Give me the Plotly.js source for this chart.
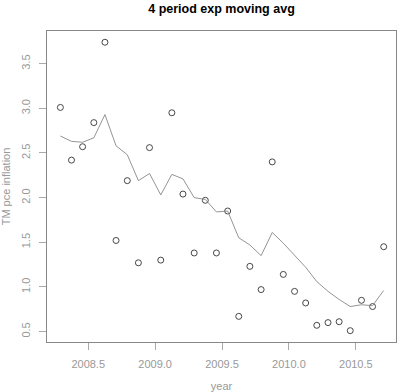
<!DOCTYPE html>
<html>
<head>
<meta charset="utf-8">
<script src="https://cdn.plot.ly/plotly-3.0.1.min.js"></script>
<style>html,body{margin:0;padding:0;background:#fff;}#chart{width:400px;height:392px;}</style>
</head>
<body>
<div id="chart"></div>
<script>
var years = [2008.292, 2008.375, 2008.458, 2008.542, 2008.625, 2008.708, 2008.792, 2008.875, 2008.958, 2009.042,
             2009.125, 2009.208, 2009.292, 2009.375, 2009.458, 2009.542, 2009.625, 2009.708, 2009.792, 2009.875,
             2009.958, 2010.042, 2010.125, 2010.208, 2010.292, 2010.375, 2010.458, 2010.542, 2010.625, 2010.708];
var inflation = [3.01, 2.42, 2.57, 2.84, 3.74, 1.52, 2.19, 1.27, 2.56, 1.30,
                 2.95, 2.04, 1.38, 1.97, 1.38, 1.85, 0.67, 1.23, 0.97, 2.40,
                 1.14, 0.95, 0.82, 0.57, 0.60, 0.61, 0.51, 0.85, 0.78, 1.45];
var expAvg = [2.69, 2.63, 2.62, 2.67, 2.93, 2.58, 2.48, 2.19, 2.27, 2.03,
              2.26, 2.21, 2.00, 1.98, 1.84, 1.85, 1.55, 1.47, 1.35, 1.61,
              1.49, 1.36, 1.22, 1.06, 0.95, 0.86, 0.78, 0.80, 0.79, 0.96];
var xTicks = [2008.5, 2009.0, 2009.5, 2010.0, 2010.5];
var xTickText = ["2008.5", "2009.0", "2009.5", "2010.0", "2010.5"];
var yTicks = [0.5, 1.0, 1.5, 2.0, 2.5, 3.0, 3.5];
var yTickText = ["0.5", "1.0", "1.5", "2.0", "2.5", "3.0", "3.5"];

var font = "Liberation Sans, Arial, sans-serif";
var traces = [
  {x: years, y: inflation, type: "scatter", mode: "markers",
   marker: {symbol: "circle-open", size: 6, color: "#333", line: {width: 0.9, color: "#333"}},
   hoverinfo: "skip"},
  {x: years, y: expAvg, type: "scatter", mode: "lines",
   line: {color: "#888", width: 0.9}, hoverinfo: "skip"}
];
var layout = {
  width: 400, height: 392,
  margin: {l: 47, r: 4, t: 31, b: 50, pad: 0},
  paper_bgcolor: "#fff", plot_bgcolor: "#fff",
  showlegend: false,
  title: {text: "<b>4 period exp moving avg</b>", font: {family: font, size: 12.5, color: "#000"},
          x: 0.5, xanchor: "center", xref: "paper", y: 0.978, yanchor: "middle", yref: "container"},
  xaxis: {range: [2008.192, 2010.80], tickvals: xTicks, ticktext: xTickText,
          showgrid: false, zeroline: false, showline: true, mirror: true, linecolor: "#888", linewidth: 1,
          ticks: "outside", ticklen: 7, tickcolor: "#aaa", tickwidth: 1,
          tickfont: {family: font, size: 11, color: "#999"}, ticklabelstandoff: 5,
          title: {text: "year", font: {family: font, size: 11, color: "#999"}, standoff: 13}},
  yaxis: {range: [0.383, 3.866], tickvals: yTicks, ticktext: yTickText, tickangle: -90,
          showgrid: false, zeroline: false, showline: true, mirror: true, linecolor: "#888", linewidth: 1,
          ticks: "outside", ticklen: 7, tickcolor: "#aaa", tickwidth: 1,
          tickfont: {family: font, size: 11, color: "#999"}, ticklabelstandoff: 5,
          title: {text: "TM pce inflation", font: {family: font, size: 11, color: "#999"}, standoff: 9}}
};
Plotly.newPlot("chart", traces, layout, {staticPlot: true, displayModeBar: false});
</script>
</body>
</html>
